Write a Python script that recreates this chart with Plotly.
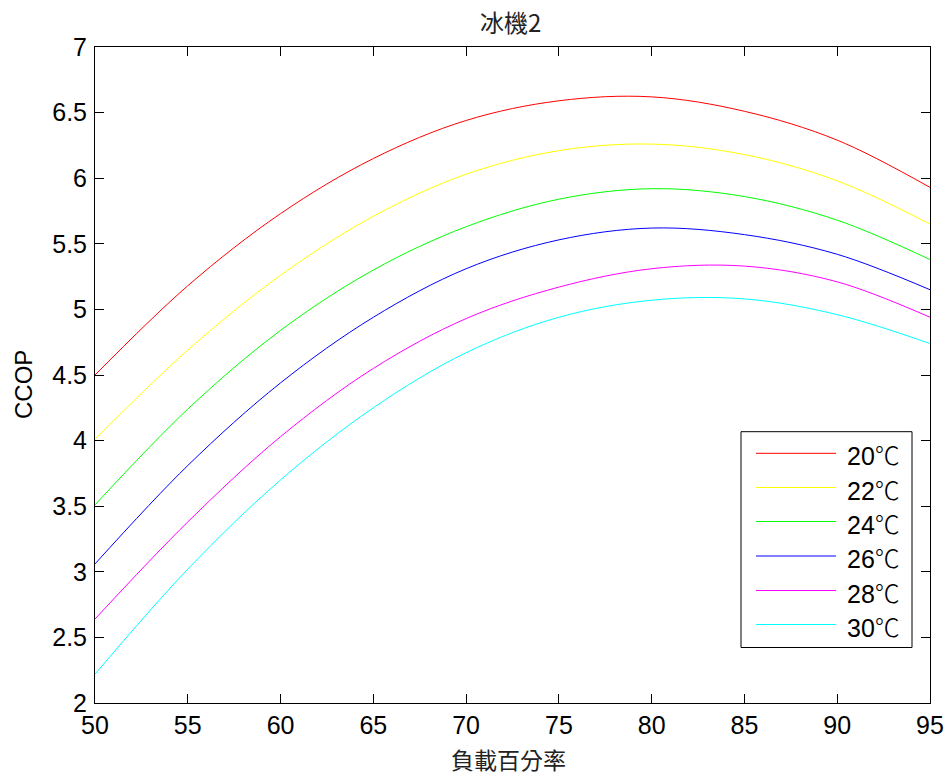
import plotly.graph_objects as go

# Chiller 2: cooling COP versus part-load ratio at several water temperatures
load_pct = [50, 55, 60, 65, 70, 75, 80, 85, 90, 95]

ccop_20 = [4.50, 5.18, 5.73, 6.15, 6.44, 6.59, 6.62, 6.51, 6.29, 5.93]
ccop_22 = [4.01, 4.69, 5.26, 5.71, 6.03, 6.21, 6.26, 6.18, 5.98, 5.65]
ccop_24 = [3.51, 4.24, 4.84, 5.30, 5.63, 5.84, 5.92, 5.86, 5.68, 5.38]
ccop_26 = [3.06, 3.81, 4.44, 4.94, 5.31, 5.53, 5.62, 5.57, 5.42, 5.15]
ccop_28 = [2.64, 3.38, 4.03, 4.55, 4.93, 5.17, 5.31, 5.33, 5.21, 4.94]
ccop_30 = [2.22, 3.02, 3.70, 4.25, 4.67, 4.94, 5.07, 5.08, 4.96, 4.74]

series_names = ["20℃", "22℃", "24℃", "26℃", "28℃", "30℃"]
series_values = [ccop_20, ccop_22, ccop_24, ccop_26, ccop_28, ccop_30]
series_colors = ["#FF0000", "#FFFF00", "#00FF00", "#0000FF", "#FF00FF", "#00FFFF"]

x_ticks = [50, 55, 60, 65, 70, 75, 80, 85, 90, 95]
y_ticks = [2, 2.5, 3, 3.5, 4, 4.5, 5, 5.5, 6, 6.5, 7]

W, H = 947, 780
M_L, M_R, M_T, M_B = 95, 17, 47, 77
PLOT_W = W - M_L - M_R
PLOT_H = H - M_T - M_B

FONT = "Liberation Sans, Arial, Noto Sans CJK TC, sans-serif"
CJK_FONT = "Noto Sans CJK TC, Liberation Sans, sans-serif"


def px_x(px):
    return (px - M_L) / PLOT_W


def px_y(py):
    return (H - M_B - py) / PLOT_H


fig = go.Figure()
for name, vals, col in zip(series_names, series_values, series_colors):
    fig.add_trace(go.Scatter(
        x=load_pct, y=vals, name=name, mode="lines",
        line=dict(color=col, width=1, shape="spline", smoothing=1.0),
        showlegend=False,
    ))

axis_common = dict(
    showline=True, linecolor="black", linewidth=1, mirror="ticks",
    ticks="inside", ticklen=9, tickcolor="black", tickwidth=1,
    showgrid=False, zeroline=False, automargin=False,
    tickfont=dict(family=FONT, size=25, color="black"),
)

fig.update_xaxes(range=[50, 95], tickvals=x_ticks,
                 ticktext=[str(v) for v in x_ticks], **axis_common)
fig.update_yaxes(range=[2, 7], tickvals=y_ticks,
                 ticktext=[f"{v:g}" for v in y_ticks], ticklabelstandoff=2,
                 **axis_common)

# Boxed legend with long line samples
shapes = [dict(type="rect", xref="paper", yref="paper",
               x0=px_x(741), x1=px_x(912), y0=px_y(647.5), y1=px_y(431.7),
               line=dict(color="black", width=1), fillcolor="white", layer="above")]
annotations = []
legend_rows = [453.3, 487.5, 521.5, 556, 590.5, 624.5]
for row, name, col in zip(legend_rows, series_names, series_colors):
    shapes.append(dict(type="line", xref="paper", yref="paper",
                       x0=px_x(756), x1=px_x(836), y0=px_y(row), y1=px_y(row),
                       line=dict(color=col, width=1), layer="above"))
    num, unit = name[:-1], name[-1]
    label = f"{num}<span style='font-family:{CJK_FONT};font-weight:300'>{unit}</span>"
    annotations.append(dict(xref="paper", yref="paper", x=px_x(845), y=px_y(row + 1),
                            text=label, showarrow=False, xanchor="left", yanchor="middle",
                            font=dict(family=FONT, size=25, color="black")))

# Axis titles and chart title
annotations.append(dict(xref="paper", yref="paper", x=px_x(508), y=px_y(759),
                        text="負載百分率", showarrow=False, xanchor="center", yanchor="middle",
                        font=dict(family=CJK_FONT, size=23, color="#222222")))
annotations.append(dict(xref="paper", yref="paper", x=px_x(23), y=px_y(385),
                        text="CCOP", showarrow=False, textangle=-90,
                        xanchor="center", yanchor="middle",
                        font=dict(family=FONT, size=24, color="black")))
annotations.append(dict(xref="paper", yref="paper", x=px_x(510), y=px_y(21),
                        text="冰機2", showarrow=False, xanchor="center", yanchor="middle",
                        font=dict(family=CJK_FONT, size=24, color="#222222")))

fig.update_layout(
    width=W, height=H,
    margin=dict(l=M_L, r=M_R, t=M_T, b=M_B, pad=0, autoexpand=False),
    paper_bgcolor="white", plot_bgcolor="white",
    shapes=shapes, annotations=annotations,
    showlegend=False,
)

fig.write_html("out.html")
